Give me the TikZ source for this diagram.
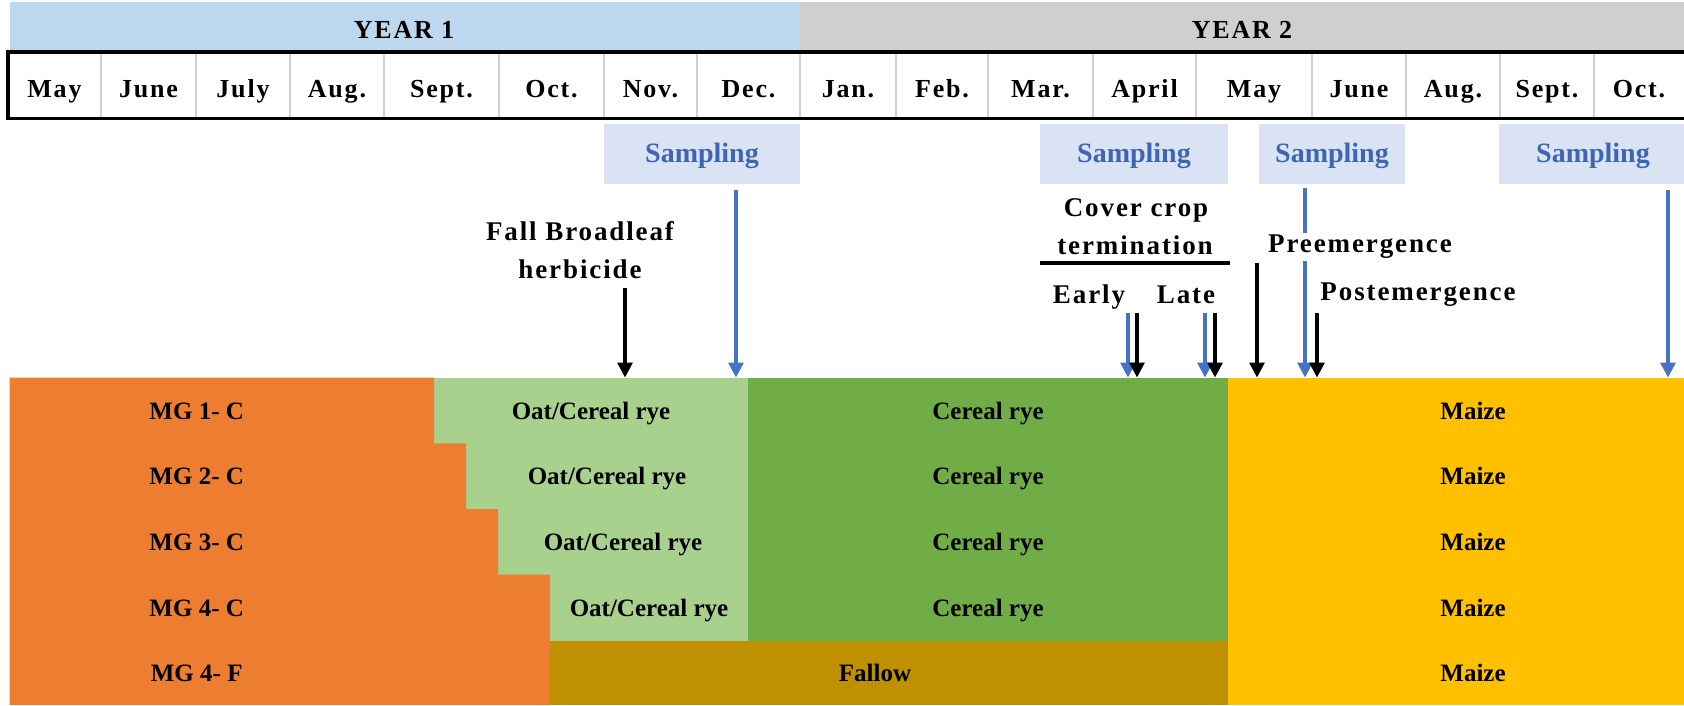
\documentclass[tikz,border=0pt]{standalone}
\usepackage{fontspec}
\setmainfont{Liberation Serif}
\newfontfamily\spacedfont[LetterSpace=7]{Liberation Serif}
\usetikzlibrary{arrows.meta}
\definecolor{orng}{HTML}{ED7D31}
\definecolor{lgreen}{HTML}{A9D18E}
\definecolor{dgreen}{HTML}{70AD47}
\definecolor{maize}{HTML}{FFC000}
\definecolor{fallow}{HTML}{BF9000}
\definecolor{yearone}{HTML}{BDD7EE}
\definecolor{yeartwo}{HTML}{D0CECE}
\definecolor{sampfill}{HTML}{DAE3F3}
\definecolor{samptxt}{HTML}{3D66B2}
\definecolor{arrblue}{HTML}{4472C4}
\definecolor{gridgray}{HTML}{D0D0D0}
\begin{document}
\begin{tikzpicture}[x=1pt,y=-1pt,
  lbl/.style={inner sep=0pt, anchor=base},
  monthtxt/.style={lbl, font=\fontsize{26}{30}\spacedfont\bfseries},
  yeartxt/.style={lbl, font=\fontsize{26}{30}\spacedfont\bfseries},
  samptext/.style={lbl, text=samptxt, font=\fontsize{28}{32}\selectfont\bfseries},
  sampbox/.style={fill=sampfill, inner sep=0pt, minimum height=60.5pt},
  annot/.style={lbl, font=\fontsize{27}{31}\spacedfont\bfseries},
  annotw/.style={annot, fill=white, inner sep=2pt},
  bandtxt/.style={lbl, font=\fontsize{25}{29}\selectfont\bfseries},
  blarrow/.style={line width=3.2pt, arrblue, -{Triangle[width=15pt,length=15pt]}},
  bkarrow/.style={line width=3.2pt, black, -{Triangle[width=15pt,length=15pt]}}]
\useasboundingbox (0,0) rectangle (1684,705);

% year bands
\fill[yearone] (9.7,2) rectangle (800,50.5);
\fill[yeartwo] (800,2) rectangle (1684,50.5);
\node[yeartxt] (y1) at (404,38.5) {YEAR 1};
\node[yeartxt] (y2) at (1242,38.5) {YEAR 2};

% month row
\fill[white] (8,52) rectangle (1684,118.5);
\foreach \x in {101,196,290,384,499,604,697,800,896,988,1093,1196,1312,1406,1500,1594}
  \draw[gridgray, line width=2pt] (\x,52) -- (\x,118.5);
\draw[line width=3.6pt, line join=miter] (1684,52) -- (8,52) -- (8,118.5) -- (1684,118.5);
\foreach \c/\t [count=\i] in {54.5/May,148.5/June,243/July,337/Aug.,441.5/Sept.,551.5/Oct.,650.5/Nov.,748.5/Dec.,848/Jan.,942/Feb.,1040.5/Mar.,1144.5/April,1254/May,1359/June,1453/Aug.,1547/Sept.,1639/Oct.}
  \node[monthtxt] (m\i) at (\c,97.5) {\t};

% sampling boxes
\node[sampbox, minimum width=196pt] (s1) at (702,153.75) {};
\node[sampbox, minimum width=188pt] (s2) at (1134,153.75) {};
\node[sampbox, minimum width=145.5pt] (s3) at (1331.75,153.75) {};
\node[sampbox, minimum width=185.4pt] (s4) at (1591.3,153.75) {};
\node[samptext] (st1) at (702,162) {Sampling};
\node[samptext] (st2) at (1134,162) {Sampling};
\node[samptext] (st3) at (1332,162) {Sampling};
\node[samptext] (st4) at (1593,162) {Sampling};

% crop bands (later fills overlap earlier ones slightly to avoid seams)
\fill[lgreen] (433,377.5) rectangle (749,640.5);
\fill[dgreen] (748,377.5) rectangle (1228,641);
\fill[fallow] (549,640.5) rectangle (1228,705);
\fill[maize] (1227.5,377.5) rectangle (1684,705);
\fill[orng] (9.7,377.5) -- (434,377.5) -- (434,443.3) -- (466,443.3) -- (466,509) -- (498,509) -- (498,574.7) -- (550,574.7) -- (550,705) -- (9.7,705) -- cycle;

\foreach \b/\t [count=\i] in {419/MG 1- C,484.7/MG 2- C,550.4/MG 3- C,616.1/MG 4- C,681.3/MG 4- F}
  \node[bandtxt] (mg\i) at (196.7,\b) {\t};
\node[bandtxt] (oc1) at (591,419) {Oat/Cereal rye};
\node[bandtxt] (oc2) at (607,484.7) {Oat/Cereal rye};
\node[bandtxt] (oc3) at (623,550.4) {Oat/Cereal rye};
\node[bandtxt] (oc4) at (649,616.1) {Oat/Cereal rye};
\foreach \b [count=\i] in {419,484.7,550.4,616.1}
  \node[bandtxt] (cr\i) at (988,\b) {Cereal rye};
\node[bandtxt] (fal) at (875,681.3) {Fallow};
\foreach \b [count=\i] in {419,484.7,550.4,616.1,681.3}
  \node[bandtxt] (mz\i) at (1473,\b) {Maize};

% arrow end points
\foreach \n/\x/\y in {a1/736/190, a2/625/288, a3/1128/313, a4/1137/313, a5/1205/313, a6/1215/313, a7/1257/263, a8/1305/188, a9/1317/313, a10/1668/190}{
  \coordinate (\n t) at (\x,\y);
  \coordinate (\n b) at (\x,377.5);
}

% annotations
\node[annot] (fb1) at (580,240) {Fall Broadleaf};
\node[annot] (fb2) at (580,278) {herbicide};
\node[annot] (cc1) at (1136,216.7) {Cover crop};
\node[annot] (cc2) at (1135,254.3) {termination};
\coordinate (ccl) at (1040,263);
\coordinate (ccr) at (1230,263);
\draw[line width=3.3pt] (ccl) -- (ccr);
\node[annot] (early) at (1089,303) {Early};
\node[annot] (late) at (1186,303) {Late};

% arrows
\draw[blarrow] (a1t) -- (a1b);
\draw[bkarrow] (a2t) -- (a2b);
\draw[blarrow] (a3t) -- (a3b);
\draw[bkarrow] (a4t) -- (a4b);
\draw[blarrow] (a5t) -- (a5b);
\draw[bkarrow] (a6t) -- (a6b);
\draw[bkarrow] (a7t) -- (a7b);
\draw[blarrow] (a8t) -- (a8b);
\draw[bkarrow] (a9t) -- (a9b);
\draw[blarrow] (a10t) -- (a10b);

\node[annotw] (pre) at (1360,252.7) {Preemergence};
\node[annot] (post) at (1418,300) {Postemergence};
\end{tikzpicture}
\end{document}
